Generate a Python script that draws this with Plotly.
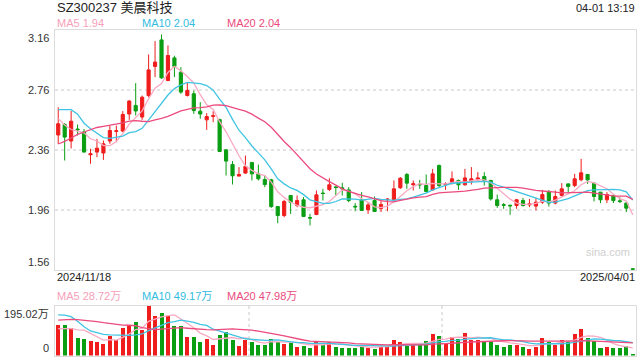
import plotly.graph_objects as go
import pandas as pd

# ---- data ----
opens = [2.46, 2.53, 2.42, 2.50, 2.48, 2.328, 2.346, 2.34, 2.42, 2.484,
         2.486, 2.60, 2.657, 2.58, 2.723, 2.917, 3.094, 2.823, 2.974, 2.879,
         2.723, 2.735, 2.619, 2.561, 2.584, 2.563, 2.361, 2.263, 2.186, 2.206,
         2.277, 2.201, 2.163, 2.161, 1.983, 1.923, 2.057, 1.99, 2.028, 1.91,
         1.93, 2.073, 2.097, 2.114, 2.108, 2.094, 1.985, 2.028, 1.961, 2.023,
         1.97, 2.028, 2.028, 2.108, 2.197, 2.128, 2.132, 2.123, 2.094, 2.257,
         2.128, 2.139, 2.157, 2.128, 2.152, 2.161, 2.183, 2.157, 2.028, 1.996,
         1.992, 1.99, 2.023, 1.994, 1.986, 2.012, 2.083, 2.006, 2.057, 2.134,
         2.123, 2.161, 2.197, 2.139, 2.079, 2.028, 2.057, 2.021, 2.006, 1.568]
highs = [2.645, 2.54, 2.62, 2.53, 2.50, 2.368, 2.434, 2.423, 2.523, 2.523,
         2.619, 2.694, 2.806, 2.723, 2.997, 3.086, 3.13, 3.057, 2.988, 2.912,
         2.812, 2.757, 2.679, 2.606, 2.619, 2.568, 2.365, 2.286, 2.246, 2.323,
         2.277, 2.263, 2.19, 2.168, 1.983, 2.028, 2.057, 2.057, 2.046, 1.934,
         2.09, 2.101, 2.172, 2.12, 2.141, 2.112, 2.006, 2.079, 2.012, 2.05,
         2.023, 2.04, 2.157, 2.179, 2.206, 2.157, 2.161, 2.197, 2.234, 2.263,
         2.145, 2.217, 2.163, 2.234, 2.246, 2.212, 2.212, 2.161, 2.063, 2.006,
         1.994, 2.034, 2.041, 2.034, 2.041, 2.094, 2.094, 2.09, 2.139, 2.139,
         2.201, 2.301, 2.20, 2.145, 2.079, 2.079, 2.06, 2.045, 2.012, 1.57]
lows = [2.40, 2.29, 2.37, 2.457, 2.345, 2.268, 2.312, 2.294, 2.401, 2.412,
        2.479, 2.561, 2.59, 2.561, 2.712, 2.846, 2.834, 2.819, 2.846, 2.735,
        2.717, 2.601, 2.568, 2.494, 2.546, 2.346, 2.19, 2.13, 2.185, 2.201,
        2.157, 2.157, 2.112, 1.974, 1.872, 1.912, 1.934, 1.979, 1.915, 1.857,
        1.926, 2.023, 2.086, 2.057, 2.057, 2.012, 1.952, 1.955, 1.934, 1.948,
        1.946, 1.952, 2.028, 2.101, 2.101, 2.09, 2.101, 2.079, 2.09, 2.112,
        2.094, 2.13, 2.094, 2.123, 2.13, 2.157, 2.123, 2.023, 1.974, 1.968,
        1.928, 1.968, 1.983, 1.979, 1.957, 2.001, 1.983, 1.997, 2.05, 2.072,
        2.112, 2.152, 2.134, 2.017, 2.006, 2.006, 2.006, 2.006, 1.946, 1.563]
closes = [2.535, 2.446, 2.552, 2.495, 2.346, 2.335, 2.372, 2.401, 2.490, 2.488,
          2.597, 2.686, 2.62, 2.712, 2.894, 2.946, 2.841, 2.99, 2.917, 2.746,
          2.757, 2.623, 2.60, 2.583, 2.588, 2.35, 2.286, 2.188, 2.197, 2.25,
          2.201, 2.168, 2.13, 1.983, 1.923, 2.017, 2.012, 2.023, 1.917, 1.906,
          2.061, 2.07, 2.128, 2.11, 2.102, 2.023, 1.981, 1.957, 1.994, 1.95,
          1.997, 2.032, 2.101, 2.172, 2.139, 2.135, 2.128, 2.083, 2.201, 2.123,
          2.133, 2.168, 2.128, 2.174, 2.168, 2.174, 2.157, 2.034, 1.99, 1.992,
          1.988, 2.028, 1.99, 2.001, 2.012, 2.063, 2.006, 2.05, 2.101, 2.117,
          2.168, 2.208, 2.161, 2.05, 2.028, 2.063, 2.023, 2.017, 1.972, 1.565]
# volume in 万
volumes = [122.5, 122.5, 110.7, 71.2, 67.2, 59.3, 55.3, 47.4, 79.0, 60.6,
           110.7, 122.5, 134.4, 102.8, 195.02, 155.5, 167.3, 155.5, 118.6, 116.0,
           75.1, 75.1, 52.7, 64.6, 44.8, 83.0, 94.9, 63.2, 39.5, 60.6,
           52.7, 44.8, 44.8, 67.2, 55.3, 47.4, 50.0, 36.9, 39.5, 31.6,
           55.3, 44.8, 55.3, 36.9, 31.6, 31.6, 31.6, 39.5, 31.6, 29.0,
           36.9, 36.9, 63.2, 52.7, 39.5, 42.2, 47.4, 59.3, 87.0, 79.0,
           47.4, 75.1, 67.2, 90.9, 63.2, 63.2, 59.3, 59.3, 44.8, 36.9,
           44.8, 44.8, 36.9, 29.0, 36.9, 71.2, 52.7, 42.2, 63.2, 55.3,
           87.0, 106.7, 71.2, 59.3, 31.6, 36.9, 31.6, 31.6, 39.5, 7.9]
# pre-window values implied by where the MA lines start
prior_closes = [2.10, 2.098, 2.02, 2.021, 2.05, 2.057, 2.25, 2.35, 2.33, 2.43,
                2.45, 2.55, 2.80, 2.95, 2.70, 2.66, 2.70, 2.55, 2.40]
prior_volumes = [85, 95, 90, 101.6, 110, 120, 130, 141, 140, 167.4,
                 130, 170, 250, 284, 223, 122.5, 110.7, 96, 73]

price_ticks = [3.16, 2.76, 2.36, 1.96, 1.56]
vol_ticks = [195.02, 0]
vol_tick_text = ["195.02万", "0"]
date_labels = ["2024/11/18", "2025/04/01"]
title_text = "SZ300237 美晨科技"
time_text = "04-01 13:19"
price_legend = ["MA5 1.94", "MA10 2.04", "MA20 2.04"]
vol_legend = ["MA5 28.72万", "MA10 49.17万", "MA20 47.98万"]

# ---- styling ----
RED = "#f01d1d"
GREEN = "#0a9e12"
MA_COLORS = ["#f9a9c2", "#3fc4e3", "#ec4b7e"]
MA_TEXT = ["#f59fb9", "#33bce0", "#ea4a7c"]
FONT = "Liberation Sans, Arial, Noto Sans CJK SC, sans-serif"

n = len(closes)
x = list(range(n))
npre = len(prior_closes)
all_close = pd.Series(prior_closes + closes)
all_vol = pd.Series(prior_volumes + volumes)
ma_p = [all_close.rolling(w).mean().iloc[npre:].tolist() for w in (5, 10, 20)]
ma_v = [all_vol.rolling(w).mean().iloc[npre:].tolist() for w in (5, 10, 20)]

fig = go.Figure()
fig.add_trace(go.Candlestick(
    x=x, open=opens, high=highs, low=lows, close=closes,
    increasing=dict(line=dict(color=RED, width=1), fillcolor=RED),
    decreasing=dict(line=dict(color=GREEN, width=1), fillcolor=GREEN),
    whiskerwidth=0, showlegend=False, xaxis="x", yaxis="y"))
for m, c in zip(ma_p, MA_COLORS):
    fig.add_trace(go.Scatter(x=x, y=m, mode="lines", line=dict(color=c, width=1.3),
                             showlegend=False, xaxis="x", yaxis="y"))

bar_colors = [RED if c >= o else GREEN for o, c in zip(opens, closes)]
fig.add_trace(go.Bar(x=x, y=volumes, marker=dict(color=bar_colors, line=dict(width=0)),
                     width=0.62, showlegend=False, xaxis="x2", yaxis="y2"))
for m, c in zip(ma_v, MA_COLORS):
    fig.add_trace(go.Scatter(x=x, y=m, mode="lines", line=dict(color=c, width=1.3),
                             showlegend=False, xaxis="x2", yaxis="y2"))

W, H = 640, 360
ML, MR, MT, MB = 55, 4, 30, 4
PW, PH = W - ML - MR, H - MT - MB


def px(xp):
    return (xp - ML) / PW


def py(yp):
    return (H - MB - yp) / PH


main_dom = [py(270), 1.0]
vol_dom = [py(355.5), py(305.5)]

grid = dict(showgrid=True, gridcolor="#e4e4e4", gridwidth=1.5, griddash="3px,3px")
fig.update_layout(
    width=W, height=H, margin=dict(l=ML, r=MR, t=MT, b=MB),
    paper_bgcolor="white", plot_bgcolor="white",
    font=dict(family=FONT, size=11, color="#333"),
    bargap=0,
    xaxis=dict(domain=[0, 1], range=[-0.5, n - 0.5], showticklabels=False, showgrid=False,
               zeroline=False, showline=True, mirror=True, linecolor="#dcdcdc",
               rangeslider=dict(visible=False), anchor="y", fixedrange=True),
    yaxis=dict(domain=main_dom, range=[price_ticks[-1], price_ticks[0]],
               tickvals=price_ticks[1:-1], showticklabels=False, zeroline=False,
               showline=True, mirror=True, linecolor="#dcdcdc", anchor="x", **grid),
    xaxis2=dict(domain=[0, 1], range=[-0.5, n - 0.5], showticklabels=False,
                tickvals=[(n / 3) - 0.5, (2 * n / 3) - 0.5], zeroline=False,
                showline=True, mirror=True, linecolor="#dcdcdc", anchor="y2", **grid),
    yaxis2=dict(domain=vol_dom, range=[0, vol_ticks[0]], showticklabels=False,
                showgrid=False, zeroline=False, showline=True, mirror=True,
                linecolor="#dcdcdc", anchor="x2"),
)

ann = []


def add(text, xp, yp, xanchor="left", size=11, color="#333"):
    ann.append(dict(text=text, x=px(xp), y=py(yp), xref="paper", yref="paper",
                    xanchor=xanchor, yanchor="middle", showarrow=False,
                    font=dict(size=size, color=color, family=FONT)))


add(title_text, 55, 8, size=13, color="#222")
add(time_text, 637, 8, xanchor="right", size=11, color="#222")
for t, xp, col in zip(price_legend, [55, 140, 225], MA_TEXT):
    add(t, xp, 23, color=col)
for t, xp, col in zip(vol_legend, [55, 140, 225], MA_TEXT):
    add(t, xp, 296, color=col)
add(date_labels[0], 55, 277, color="#222")
add(date_labels[1], 637, 277, xanchor="right", color="#222")
add("sina.com", 632, 252, xanchor="right", size=11, color="#d0d0d0")

for i, v in enumerate(price_ticks):
    ya = "top" if i == 0 else ("bottom" if i == len(price_ticks) - 1 else "middle")
    ann.append(dict(text=f"{v:.2f}", x=0, xref="paper", y=v, yref="y", xanchor="right",
                    yanchor=ya, xshift=-4, showarrow=False,
                    font=dict(size=11, color="#333", family=FONT)))
for i, (v, t) in enumerate(zip(vol_ticks, vol_tick_text)):
    ann.append(dict(text=t, x=0, xref="paper", y=v, yref="y2", xanchor="right",
                    yanchor="top" if i == 0 else "bottom", xshift=-4, showarrow=False,
                    font=dict(size=11, color="#333", family=FONT)))
fig.update_layout(annotations=ann)

fig.write_html("out.html", config={"displayModeBar": False},
               post_script="document.body.style.margin='0';document.body.style.padding='0';")
